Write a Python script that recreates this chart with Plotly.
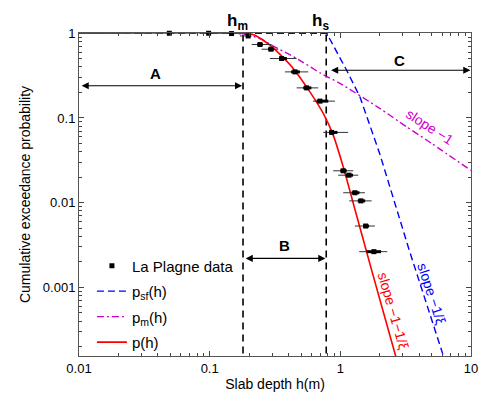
import numpy as np
import plotly.graph_objects as go

# ---- La Plagne slab-depth data (h in m, exceedance probability) ----
data_h = [0.0491, 0.0982, 0.147, 0.197, 0.2426, 0.2944, 0.3556, 0.4495, 0.5524,
          0.698, 0.858, 1.052, 1.164, 1.293, 1.437, 1.562, 1.807]
data_p = [1.0, 1.0, 0.992, 0.929, 0.736, 0.648, 0.503, 0.35, 0.2265,
          0.158, 0.0675, 0.0238, 0.0211, 0.0131, 0.0105, 0.0053, 0.00264]
# outer (thin) error-bar limits
data_lo = [0.0491, 0.0982, 0.147, 0.1705, 0.2096, 0.25, 0.2892, 0.3767, 0.463,
           0.617, 0.740, 0.882, 0.9636, 1.052, 1.17, 1.293, 1.395]
data_hi = [0.0491, 0.0982, 0.147, 0.2096, 0.298, 0.3347, 0.463, 0.568, 0.6775,
           0.909, 1.149, 1.255, 1.371, 1.542, 1.736, 1.839, 2.285]
# inner (thick) error-bar limits
core_lo = [0.0491, 0.0982, 0.147, 0.19, 0.232, 0.28, 0.34, 0.42, 0.52,
           0.659, 0.82, 1.0, 1.10, 1.22, 1.36, 1.50, 1.589]
core_hi = [0.0491, 0.0982, 0.147, 0.205, 0.255, 0.31, 0.39, 0.49, 0.60,
           0.808, 0.95, 1.12, 1.25, 1.40, 1.55, 1.66, 2.049]

# ---- model curves ----
psf_h = [0.01, 0.785, 0.882, 1.117, 1.413, 2.0, 3.365, 6.12, 6.5]
psf_p = [1.0, 1.0, 0.722, 0.366, 0.177, 0.038, 0.00276, 1.6e-4, 1.19e-4]

pm_h = [0.01, 0.15, 0.2, 0.25, 0.3, 0.4, 0.5, 0.7, 1.0, 2.0, 3.2, 5.0, 10.0]
pm_p = [1.0, 1.0, 0.95, 0.85, 0.72, 0.57, 0.47, 0.34, 0.255, 0.13, 0.079, 0.05, 0.024]

p_h = [0.01, 0.19, 0.22, 0.25, 0.289, 0.35, 0.436, 0.585, 0.74, 0.882, 1.052,
       1.3, 1.736, 2.65, 2.75]
p_p = [1.0, 1.0, 0.955, 0.85, 0.722, 0.552, 0.384, 0.203, 0.113, 0.0627, 0.0265,
       0.0081, 0.0016, 1.55e-4, 1.26e-4]

# characteristic depths
h_m = 0.18
h_s = 0.78

FONT = "Liberation Sans, Arial, Helvetica, sans-serif"

def minus(a, b):
    return [x - y for x, y in zip(a, b)]

fig = go.Figure()

# vertical markers at h_m and h_s
for hv in (h_m, h_s):
    fig.add_trace(go.Scatter(x=[hv, hv], y=[1.2e-4, 1.0], mode="lines",
                             line=dict(color="black", width=1.6, dash="7px,5px"),
                             showlegend=False, hoverinfo="skip"))

fig.add_trace(go.Scatter(x=psf_h, y=psf_p, mode="lines", name="p<sub>sf</sub>(h)",
                         line=dict(color="#0000ff", width=1.4, dash="7px,4px"),
                         legendrank=2, legendgroup="g2"))
fig.add_trace(go.Scatter(x=pm_h, y=pm_p, mode="lines", name="p<sub>m</sub>(h)",
                         line=dict(color="#cc00cc", width=1.4, dash="7px,3px,2px,3px",
                                   shape="spline", smoothing=0.6),
                         legendrank=3, legendgroup="g3"))
fig.add_trace(go.Scatter(x=p_h, y=p_p, mode="lines", name="p(h)",
                         line=dict(color="#ff0000", width=1.6, shape="spline", smoothing=0.6),
                         legendrank=4, legendgroup="g4"))

# thin error bars
fig.add_trace(go.Scatter(x=data_h, y=data_p, mode="markers",
                         marker=dict(size=1, color="rgba(0,0,0,0)"),
                         error_x=dict(type="data", symmetric=False,
                                      array=minus(data_hi, data_h),
                                      arrayminus=minus(data_h, data_lo),
                                      color="#333333", thickness=1, width=0),
                         showlegend=False, hoverinfo="skip", cliponaxis=False))
# thick error bars
fig.add_trace(go.Scatter(x=data_h, y=data_p, mode="markers",
                         marker=dict(size=1, color="rgba(0,0,0,0)"),
                         error_x=dict(type="data", symmetric=False,
                                      array=minus(core_hi, data_h),
                                      arrayminus=minus(data_h, core_lo),
                                      color="black", thickness=3, width=0),
                         showlegend=False, hoverinfo="skip", cliponaxis=False))
fig.add_trace(go.Scatter(x=data_h, y=data_p, mode="markers", name="La Plagne data",
                         marker=dict(symbol="square", size=5, color="black"),
                         cliponaxis=False, legendrank=1, legendgroup="g1"))

lg = np.log10
ann = []
# region arrows A, B, C
arrows = [
    (0.0102, h_m * 0.985, 0.24, "A", 0.0382, 0.337),
    (h_m * 1.02, h_s * 0.985, 0.0022, "B", 0.3767, 0.0031),
    (h_s * 1.06, 9.9, 0.366, "C", 2.85, 0.48),
]
for x0, x1, yv, lab, lx, ly in arrows:
    ann.append(dict(x=lg(x1), y=lg(yv), ax=lg(x0), ay=lg(yv), xref="x", yref="y",
                    axref="x", ayref="y", showarrow=True, arrowhead=2, arrowsize=1.3,
                    arrowwidth=1.1, arrowside="end+start", arrowcolor="black", text=""))
    ann.append(dict(x=lg(lx), y=lg(ly), xref="x", yref="y", text="<b>%s</b>" % lab,
                    showarrow=False, font=dict(size=15, color="black", family=FONT)))

# h_m, h_s labels above the frame
for hv, sub in ((h_m, "m"), (h_s, "s")):
    ann.append(dict(x=lg(hv), y=1.0, xref="x", yref="paper", yanchor="bottom",
                    yshift=-2, xshift=-6,
                    text="<b>h<sub>%s</sub></b>" % sub, showarrow=False,
                    font=dict(size=17, color="black", family=FONT)))

# slope labels
ann.append(dict(x=lg(4.85), y=lg(0.078), xref="x", yref="y", text="slope \u22121",
                showarrow=False, textangle=33,
                font=dict(size=14, color="#cc00cc", family=FONT)))
ann.append(dict(x=lg(5.02), y=lg(0.00084), xref="x", yref="y", text="slope \u22121/\u03be",
                showarrow=False, textangle=72,
                font=dict(size=14, color="#0000ff", family=FONT)))
ann.append(dict(x=lg(2.53), y=lg(0.00054), xref="x", yref="y",
                text="slope \u22121\u22121/\u03be",
                showarrow=False, textangle=74,
                font=dict(size=14, color="#ff0000", family=FONT)))

minor_vals = [k * 10.0 ** d for d in range(-2, 1) for k in range(2, 10)]
minor_y = [k * 10.0 ** d for d in range(-4, 0) for k in range(2, 10)]

fig.update_layout(
    width=479, height=394,
    margin=dict(l=79, r=8, t=33, b=38),
    paper_bgcolor="white", plot_bgcolor="white",
    font=dict(family=FONT, size=13, color="black"),
    showlegend=True,
    legend=dict(x=0.033, y=0.33, xanchor="left", yanchor="top",
                bgcolor="rgba(255,255,255,0)", font=dict(size=15),
                traceorder="grouped", tracegroupgap=3, itemwidth=30),
    annotations=ann,
)
fig.update_xaxes(type="log", range=[-2, 1], tickvals=[0.01, 0.1, 1, 10],
                 ticktext=["0.01", "0.1", "1", "10"], ticks="inside", ticklen=5,
                 tickcolor="#444", showline=True, linecolor="#555", linewidth=1,
                 mirror="ticks", showgrid=False, zeroline=False, automargin=False,
                 minor=dict(tickvals=minor_vals, ticks="inside", ticklen=3,
                            tickcolor="#444", showgrid=False),
                 title=dict(text="Slab depth h(m)", standoff=4, font=dict(size=14)),
                 tickfont=dict(size=13))
fig.update_yaxes(type="log", range=[-3.81, 0.003], tickvals=[0.001, 0.01, 0.1, 1],
                 ticktext=["0.001", "0.01", "0.1", "1"], ticks="inside", ticklen=5,
                 tickcolor="#444", showline=True, linecolor="#555", linewidth=1,
                 mirror="ticks", showgrid=False, zeroline=False, automargin=False,
                 minor=dict(tickvals=minor_y, ticks="inside", ticklen=3,
                            tickcolor="#444", showgrid=False),
                 title=dict(text="Cumulative exceedance probability", standoff=8,
                            font=dict(size=14)),
                 tickfont=dict(size=13))

fig.write_html("out.html")
